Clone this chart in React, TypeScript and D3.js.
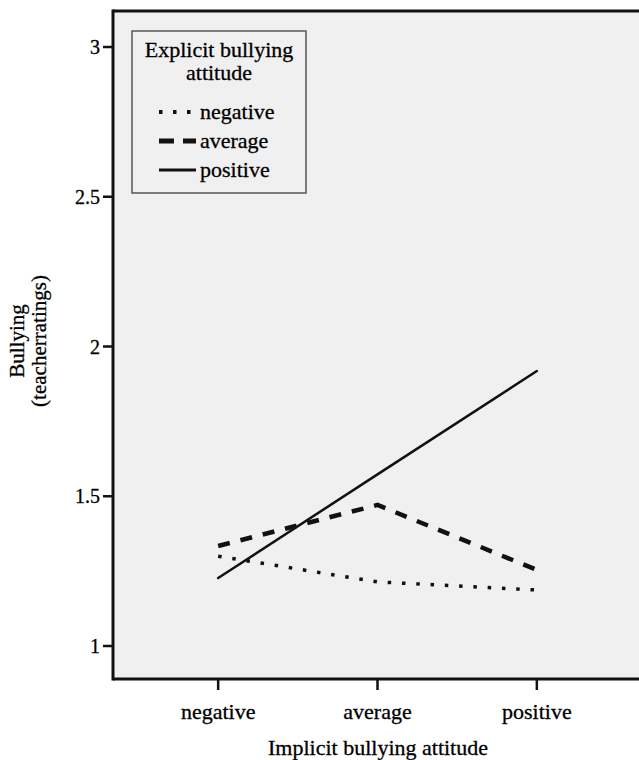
import React, { useEffect, useRef } from "react";
import * as d3 from "d3";

const implicitLevels = ["negative", "average", "positive"];
const yTicks = [1, 1.5, 2, 2.5, 3];

const negativeSeries = [1.3, 1.214, 1.187];
const averageSeries = [1.334, 1.471, 1.254];
const positiveSeries = [1.227, 1.573, 1.918];

const seriesNames = ["negative", "average", "positive"];

const App = () => {
  const svgRef = useRef<SVGSVGElement>(null);

  useEffect(() => {
    const W = 639;
    const H = 760;
    const plot = { left: 113, top: 11, right: 639, bottom: 679 };
    const font = "Liberation Serif";

    const svg = d3.select(svgRef.current);
    svg.selectAll("*").remove();
    svg.attr("width", W).attr("height", H);

    const x = d3.scalePoint().domain(implicitLevels).range([plot.left, 642]).padding(0.66);
    const y = d3.scaleLinear().domain([1, 3]).range([646, 47]);

    svg.append("rect")
      .attr("x", plot.left)
      .attr("y", plot.top)
      .attr("width", plot.right - plot.left)
      .attr("height", plot.bottom - plot.top)
      .attr("fill", "#f0f0f0");

    // lines
    const styles = [
      { data: negativeSeries, width: 3.5, dash: "3.5 10.8", cap: "butt", legendDash: "3.5 10.5" },
      { data: averageSeries, width: 4.5, dash: "12 11", cap: "butt", legendDash: "15 9" },
      { data: positiveSeries, width: 2.5, dash: null, cap: "round", legendDash: null },
    ];
    const line = d3.line<number>()
      .x((d, i) => x(implicitLevels[i]) as number)
      .y((d) => y(d));

    styles.forEach((s) => {
      svg.append("path")
        .attr("d", line(s.data))
        .attr("fill", "none")
        .attr("stroke", "#111")
        .attr("stroke-width", s.width)
        .attr("stroke-dasharray", s.dash)
        .attr("stroke-linecap", s.cap);
    });

    // axes frame
    svg.append("line")
      .attr("x1", plot.left).attr("x2", plot.right)
      .attr("y1", plot.top).attr("y2", plot.top)
      .attr("stroke", "#111").attr("stroke-width", 3);
    svg.append("line")
      .attr("x1", plot.left).attr("x2", plot.left)
      .attr("y1", plot.top - 1.5).attr("y2", plot.bottom + 1.5)
      .attr("stroke", "#111").attr("stroke-width", 3);
    svg.append("line")
      .attr("x1", plot.left).attr("x2", plot.right)
      .attr("y1", plot.bottom).attr("y2", plot.bottom)
      .attr("stroke", "#111").attr("stroke-width", 3);

    const txt = (sel: any, size: number) =>
      sel.attr("font-family", font)
        .attr("font-size", size)
        .attr("fill", "#000")
        .attr("stroke", "#000")
        .attr("stroke-width", 0.3);

    // y ticks
    yTicks.forEach((t) => {
      svg.append("line")
        .attr("x1", plot.left - 10).attr("x2", plot.left)
        .attr("y1", y(t)).attr("y2", y(t))
        .attr("stroke", "#111").attr("stroke-width", 2.5);
      txt(svg.append("text"), 20)
        .attr("x", plot.left - 13)
        .attr("y", y(t))
        .attr("dy", "0.35em")
        .attr("text-anchor", "end")
        .text(String(t));
    });

    // x ticks
    implicitLevels.forEach((c) => {
      const cx = x(c) as number;
      svg.append("line")
        .attr("x1", cx).attr("x2", cx)
        .attr("y1", plot.bottom).attr("y2", plot.bottom + 11)
        .attr("stroke", "#111").attr("stroke-width", 2.5);
      txt(svg.append("text"), 22)
        .attr("x", cx)
        .attr("y", 719)
        .attr("text-anchor", "middle")
        .text(c);
    });

    txt(svg.append("text"), 22)
      .attr("x", 378)
      .attr("y", 755)
      .attr("text-anchor", "middle")
      .text("Implicit bullying attitude");

    const yl = txt(svg.append("text"), 21)
      .attr("transform", "translate(24,341) rotate(-90)")
      .attr("text-anchor", "middle");
    yl.append("tspan").attr("x", 0).attr("dy", 0).text("Bullying");
    yl.append("tspan").attr("x", 0).attr("dy", 22).text("(teacherratings)");

    // legend
    const lg = svg.append("g").attr("transform", "translate(132,31)");
    lg.append("rect")
      .attr("width", 174).attr("height", 162)
      .attr("fill", "#f0f0f0")
      .attr("stroke", "#555").attr("stroke-width", 1.5);
    txt(lg.append("text"), 22)
      .attr("x", 87).attr("y", 26)
      .attr("text-anchor", "middle")
      .text("Explicit bullying");
    txt(lg.append("text"), 22)
      .attr("x", 87).attr("y", 49)
      .attr("text-anchor", "middle")
      .text("attitude");
    seriesNames.forEach((name, i) => {
      const ly = 81 + i * 29;
      const s = styles[i];
      lg.append("line")
        .attr("x1", 27).attr("x2", 64)
        .attr("y1", ly).attr("y2", ly)
        .attr("stroke", "#111")
        .attr("stroke-width", s.width + 0.5)
        .attr("stroke-dasharray", s.legendDash);
      txt(lg.append("text"), 22)
        .attr("x", 68).attr("y", ly)
        .attr("dy", "0.32em")
        .text(name);
    });
  }, []);

  return (
    <svg ref={svgRef} style={{ position: "absolute", left: 0, top: 0, background: "#fff" }}></svg>
  );
};

export default App;
